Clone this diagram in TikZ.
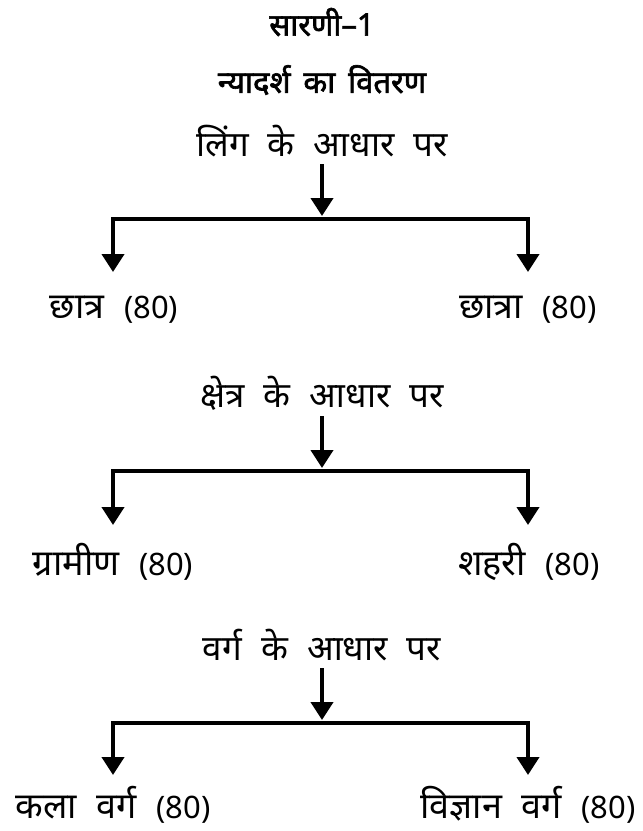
\documentclass[tikz,border=0pt]{standalone}
\usepackage{fontspec}
\setmainfont{Noto Sans}[Script=Devanagari, WordSpace=2.1]
\newfontfamily\titlefont{Noto Sans}[Script=Devanagari, FakeBold=2, WordSpace=1.6]
\newfontfamily\latf{Noto Sans}[Scale=0.86]
\usetikzlibrary{arrows.meta}
\tikzset{
  ttl/.style={font=\titlefont\fontsize{31}{34}\selectfont, inner sep=0pt},
  head/.style={font=\fontsize{35}{38}\selectfont, inner sep=0pt},
  leaf/.style={font=\fontsize{36}{40}\selectfont, inner sep=0pt},
  conn/.style={line width=4pt},
  arr/.style={line width=4pt, -{Triangle[width=22pt,length=18pt]}},
}
\newcommand{\nm}[1]{{\latf #1}}
\begin{document}
\begin{tikzpicture}[x=1pt,y=-1pt]
\useasboundingbox (0,0) rectangle (643,831);
\node[ttl] (t1) at (322,22) {सारणी–1};
\node[ttl] (t2) at (322,80) {न्यादर्श का वितरण};
% level 1
\node[head] (h1) at (322,141) {लिंग के आधार पर};
\coordinate (s1) at (322,164);
\coordinate (j1) at (322,216);
\coordinate (l1) at (113,219);
\coordinate (r1) at (528,219);
\coordinate (lt1) at (113,272);
\coordinate (rt1) at (528,272);
\node[leaf] (a1) at (114,310) {छात्र \nm{(80)}};
\node[leaf] (b1) at (528,310) {छात्रा \nm{(80)}};
\draw[arr] (s1) -- (j1);
\draw[conn] ([xshift=-2pt]l1) -- ([xshift=2pt]r1);
\draw[arr] ([yshift=-2pt]l1) -- (lt1);
\draw[arr] ([yshift=-2pt]r1) -- (rt1);
% level 2
\node[head] (h2) at (322,393) {क्षेत्र के आधार पर};
\coordinate (s2) at (322,416);
\coordinate (j2) at (322,468);
\coordinate (l2) at (113,471);
\coordinate (r2) at (528,471);
\coordinate (lt2) at (113,525);
\coordinate (rt2) at (528,525);
\node[leaf] (a2) at (113,562) {ग्रामीण \nm{(80)}};
\node[leaf] (b2) at (529,562) {शहरी \nm{(80)}};
\draw[arr] (s2) -- (j2);
\draw[conn] ([xshift=-2pt]l2) -- ([xshift=2pt]r2);
\draw[arr] ([yshift=-2pt]l2) -- (lt2);
\draw[arr] ([yshift=-2pt]r2) -- (rt2);
% level 3
\node[head] (h3) at (322,645) {वर्ग के आधार पर};
\coordinate (s3) at (322,668);
\coordinate (j3) at (322,720);
\coordinate (l3) at (113,723);
\coordinate (r3) at (528,723);
\coordinate (lt3) at (113,775);
\coordinate (rt3) at (528,775);
\node[leaf] (a3) at (113,805) {कला वर्ग \nm{(80)}};
\node[leaf] (b3) at (528,805) {विज्ञान वर्ग \nm{(80)}};
\draw[arr] (s3) -- (j3);
\draw[conn] ([xshift=-2pt]l3) -- ([xshift=2pt]r3);
\draw[arr] ([yshift=-2pt]l3) -- (lt3);
\draw[arr] ([yshift=-2pt]r3) -- (rt3);
\end{tikzpicture}
\end{document}
